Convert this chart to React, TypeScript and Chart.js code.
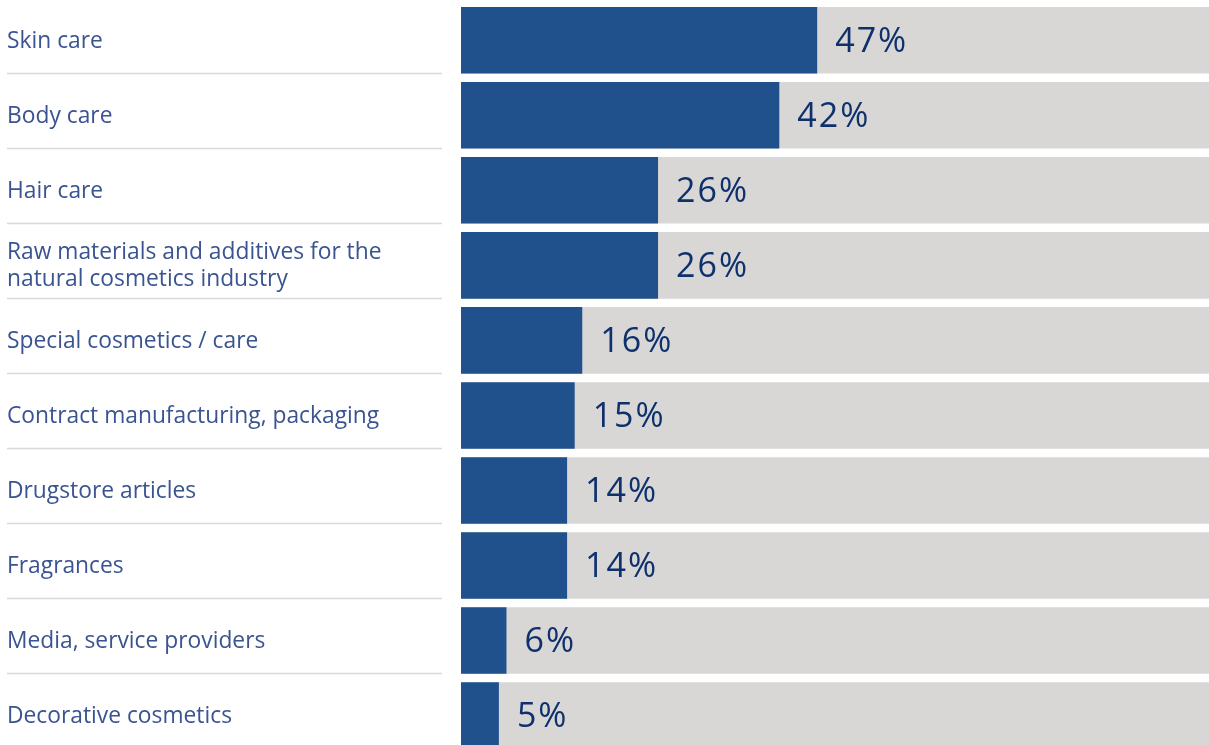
import React, { useEffect, useRef } from "react";
import { Chart, registerables } from "chart.js";

Chart.register(...registerables);

const categories: string[][] = [
  ["Skin care"],
  ["Body care"],
  ["Hair care"],
  ["Raw materials and additives for the", "natural cosmetics industry"],
  ["Special cosmetics / care"],
  ["Contract manufacturing, packaging"],
  ["Drugstore articles"],
  ["Fragrances"],
  ["Media, service providers"],
  ["Decorative cosmetics"],
];
const shares: number[] = [47, 42, 26, 26, 16, 15, 14, 14, 6, 5];
const valueLabels: string[] = ["47%", "42%", "26%", "26%", "16%", "15%", "14%", "14%", "6%", "5%"];
const totals: number[] = [100, 100, 100, 100, 100, 100, 100, 100, 100, 100];

const FONT = "'Open Sans', 'Noto Sans', sans-serif";

const labelPlugin = {
  id: "rowLabels",
  afterDatasetsDraw(chart: any) {
    const ctx = chart.ctx;
    const meta = chart.getDatasetMeta(0);
    ctx.save();
    meta.data.forEach((bar: any, i: number) => {
      const props = bar.getProps(["x", "y", "base", "height"], true);
      const bottom = props.y + props.height / 2;
      if (i < meta.data.length - 1) {
        ctx.strokeStyle = "#d9d9d9";
        ctx.lineWidth = 1.5;
        ctx.beginPath();
        ctx.moveTo(7, Math.round(bottom) - 0.5);
        ctx.lineTo(442, Math.round(bottom) - 0.5);
        ctx.stroke();
      }
      const lines = categories[i];
      ctx.fillStyle = "#3a5391";
      ctx.font = `500 22.8px ${FONT}`;
      ctx.textAlign = "left";
      ctx.textBaseline = "middle";
      (ctx as any).letterSpacing = "0px";
      const lh = 27;
      const start = props.y - ((lines.length - 1) * lh) / 2 + 1;
      lines.forEach((ln, k) => ctx.fillText(ln, 7, start + k * lh));
      ctx.fillStyle = "#0e306c";
      ctx.font = `34px ${FONT}`;
      (ctx as any).letterSpacing = "2px";
      ctx.fillText(valueLabels[i], props.x + 18, props.y + 2);
      (ctx as any).letterSpacing = "0px";
    });
    ctx.restore();
  },
};

export default function App() {
  const ref = useRef<HTMLCanvasElement | null>(null);
  useEffect(() => {
    if (!ref.current) return;
    const chart = new Chart(ref.current, {
      type: "bar",
      data: {
        labels: categories.map((c) => c.join(" ")),
        datasets: [
          {
            data: shares,
            backgroundColor: "#21518d",
            grouped: false,
            barPercentage: 0.887,
            categoryPercentage: 1,
            borderWidth: 0,
          },
          {
            data: totals,
            backgroundColor: "#d8d7d5",
            grouped: false,
            barPercentage: 0.887,
            categoryPercentage: 1,
            borderWidth: 0,
          },
        ],
      },
      options: {
        indexAxis: "y",
        animation: false,
        responsive: false,
        maintainAspectRatio: false,
        layout: { padding: { left: 461, top: 2.8, right: 0, bottom: 0 } },
        plugins: { legend: { display: false }, tooltip: { enabled: false } },
        scales: {
          x: { display: false, min: 0, max: 98.7 },
          y: { display: false },
        },
      },
      plugins: [labelPlugin],
    });
    return () => chart.destroy();
  }, []);
  return (
    <div style={{ position: "fixed", left: 0, top: 0, width: 1209, height: 753, background: "#fff" }}>
      <canvas ref={ref} width={1209} height={753} style={{ width: 1209, height: 753 }} />
    </div>
  );
}
